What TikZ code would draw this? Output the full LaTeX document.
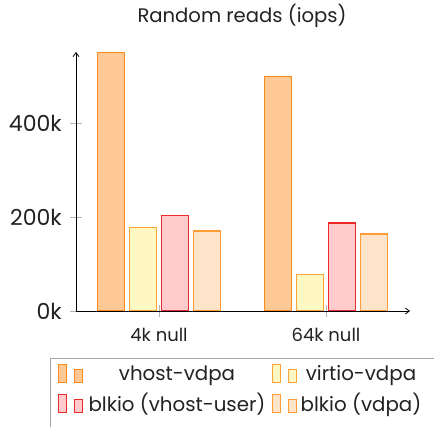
\documentclass[tikz,border=0pt]{standalone}
\usepackage{fontspec}
\setmainfont{Poppins}
\usetikzlibrary{arrows.meta}
\definecolor{vvfill}{HTML}{FEC994}
\definecolor{vvdraw}{HTML}{FF8A1C}
\definecolor{vifill}{HTML}{FFF8C2}
\definecolor{vidraw}{HTML}{FFA336}
\definecolor{bufill}{HTML}{FFCBCC}
\definecolor{budraw}{HTML}{EE2A2A}
\definecolor{bdfill}{HTML}{FFE4CA}
\definecolor{bddraw}{HTML}{FF9C35}
\definecolor{txt}{HTML}{222222}
\tikzset{
  vv/.style={fill=vvfill,draw=vvdraw,line width=1.1pt},
  vi/.style={fill=vifill,draw=vidraw,line width=1.1pt},
  bu/.style={fill=bufill,draw=budraw,line width=1.1pt},
  bd/.style={fill=bdfill,draw=bddraw,line width=1.1pt},
  ticklab/.style={anchor=base east,font=\fontsize{22}{22}\selectfont,text=txt,inner sep=0pt},
  xlab/.style={anchor=base,font=\fontsize{18}{18}\selectfont,text=txt,inner sep=0pt},
  leglab/.style={anchor=base,font=\fontsize{19.8}{19.8}\selectfont,text=txt,inner sep=0pt},
  tickmark/.style={draw=gray!60,line width=0.8pt},
  axisline/.style={line width=0.8pt,-{Straight Barb[length=4pt,width=6pt]}}
}
\begin{document}
\begin{tikzpicture}[x=1pt,y=-1pt]
\useasboundingbox (0,0) rectangle (434,427);
\clip (0,0) rectangle (434,427);
% title
\node[anchor=base,font=\fontsize{19.6}{19.6}\selectfont,text=txt,inner sep=0pt] (title) at (242,23) {Random reads (iops)};
% ticks
\draw[tickmark] (70,123) -- (82,123);
\draw[tickmark] (70,217.5) -- (82,217.5);
\draw[tickmark] (70,311) -- (82,311);
\draw[tickmark] (159,305) -- (159,317);
\draw[tickmark] (326,305) -- (326,317);
% bars 4k
\draw[vv] (97.5,311) rectangle (124.5,52.5);
\draw[vi] (129.5,311) rectangle (156.5,227.3);
\draw[bu] (161.5,311) rectangle (188.5,215.3);
\draw[bd] (193.5,311) rectangle (220.5,231);
% bars 64k
\draw[vv] (264.5,311) rectangle (291.5,76.5);
\draw[vi] (296.5,311) rectangle (323.5,274.3);
\draw[bu] (328.5,311) rectangle (355.5,223);
\draw[bd] (360.5,311) rectangle (387.5,234);
% axes
\coordinate (o) at (76,311);
\coordinate (ytop) at (76,52);
\coordinate (xend) at (410,311);
\draw[axisline] (o) -- (ytop);
\draw[axisline] (o) -- (xend);
% tick labels
\node[ticklab] (l400) at (62,131.5) {400k};
\node[ticklab] (l200) at (62,226) {200k};
\node[ticklab] (l0) at (62,319.5) {0k};
\node[xlab] (g4) at (159,342) {4k null};
\node[xlab] (g64) at (326,342) {64k null};
% legend
\draw[draw=gray!70,line width=0.8pt,fill=white] (50,358) rectangle (445,440);
\draw[vv,line width=1pt] (58,383) rectangle (66,364.5);
\draw[vv,line width=1pt] (74.5,383) rectangle (82,369.5);
\node[leglab] (lvv) at (177,381) {vhost-vdpa};
\draw[bu,line width=1pt] (58,412.5) rectangle (66,394.5);
\draw[bu,line width=1pt] (74.5,412.5) rectangle (82,399.5);
\node[leglab] (lbu) at (177,411.5) {blkio (vhost-user)};
\draw[vi,line width=1pt] (272.5,383) rectangle (280.5,364.5);
\draw[vi,line width=1pt] (288.5,383) rectangle (296.5,369.5);
\node[leglab] (lvi) at (361,381) {virtio-vdpa};
\draw[bd,line width=1pt] (272.5,412.5) rectangle (280.5,394.5);
\draw[bd,line width=1pt] (288.5,412.5) rectangle (296.5,399.5);
\node[leglab] (lbd) at (361,411.5) {blkio (vdpa)};
\end{tikzpicture}
\end{document}
